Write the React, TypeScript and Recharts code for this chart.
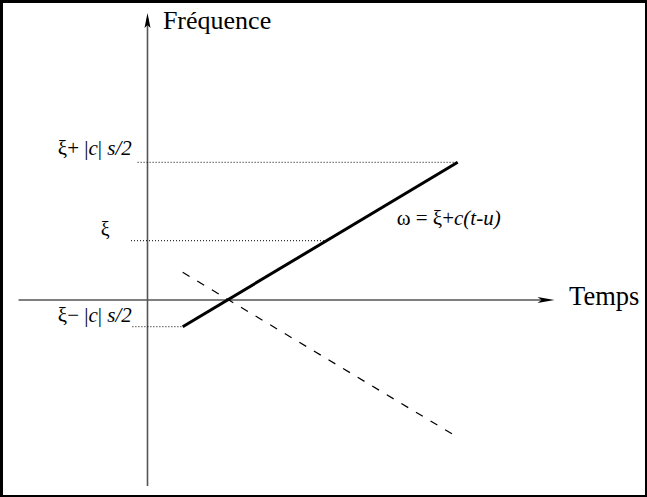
import React from "react"
import { LineChart, Line, XAxis, YAxis, ReferenceLine, ReferenceDot } from "recharts"

// time (t) and frequency (f) of the chirp line and its mirror
const chirpT = [1.28, 11.28]
const chirpF = [-2.67, 13.77]
const mirrorF = [2.77, -13.73]

// dotted guides: level, start t, end t
const guideLevels = [13.77, 5.93, -2.67]
const guideStart = [-0.36, -0.6, -0.55]
const guideEnd = [11.28, 6.44, 1.28]

// axes extents
const timeAxis = [-4.69, 14.8]
const freqAxis = [-18.6, 28.7]

const W = 647
const H = 497
const ORIGIN_X = 147.5
const ORIGIN_Y = 300
const PX_T = 27.5
const PX_F = 10
const tDomain = [-ORIGIN_X / PX_T, (W - ORIGIN_X) / PX_T]
const fDomain = [-(H - ORIGIN_Y) / PX_F, ORIGIN_Y / PX_F]

const solid = chirpT.map((t, i) => ({ t, f: chirpF[i] }))
const dashed = chirpT.map((t, i) => ({ t, f: mirrorF[i] }))

const FONT = "'Liberation Serif', 'Times New Roman', serif"
const AXIS = "#555555"

const arrowUp = (p: any) => (
  <path
    d={`M${p.cx},${p.cy} L${p.cx + 3},${p.cy + 15} L${p.cx},${p.cy + 12} L${p.cx - 3},${p.cy + 15} Z`}
    fill="#000"
  />
)
const arrowRight = (p: any) => (
  <path
    d={`M${p.cx},${p.cy} L${p.cx - 17},${p.cy + 3} L${p.cx - 13},${p.cy} L${p.cx - 17},${p.cy - 3} Z`}
    fill="#000"
  />
)

const textAt = (content: React.ReactNode, size: number, anchor: "start" | "end" = "start") =>
  (p: any) => (
    <text x={p.cx} y={p.cy} fontFamily={FONT} fontSize={size} textAnchor={anchor} fill="#000">
      {content}
    </text>
  )

export default function App() {
  return (
    <div style={{ position: "absolute", left: 0, top: 0, width: W, height: H, background: "#fff" }}>
      <LineChart width={W} height={H} margin={{ top: 0, right: 0, bottom: 0, left: 0 }}>
        <XAxis type="number" dataKey="t" domain={tDomain} allowDataOverflow hide />
        <YAxis type="number" dataKey="f" domain={fDomain} allowDataOverflow hide />

        {/* axes */}
        <ReferenceLine
          segment={[{ x: timeAxis[0], y: 0 }, { x: timeAxis[1] - 0.3, y: 0 }]}
          stroke={AXIS}
          strokeWidth={1.6}
          ifOverflow="visible"
        />
        <ReferenceLine
          segment={[{ x: 0, y: freqAxis[0] }, { x: 0, y: freqAxis[1] - 0.5 }]}
          stroke={AXIS}
          strokeWidth={1.6}
          ifOverflow="visible"
        />
        <ReferenceDot x={timeAxis[1]} y={0} r={0} shape={arrowRight} ifOverflow="visible" />
        <ReferenceDot x={0} y={freqAxis[1]} r={0} shape={arrowUp} ifOverflow="visible" />

        {/* dotted guides */}
        {guideLevels.map((lv, i) => (
          <ReferenceLine
            key={i}
            segment={[{ x: guideStart[i], y: lv }, { x: guideEnd[i], y: lv }]}
            stroke="#000"
            strokeWidth={1}
            strokeDasharray="1 2"
            ifOverflow="visible"
          />
        ))}

        <Line
          data={dashed}
          dataKey="f"
          type="linear"
          stroke="#000"
          strokeWidth={1.2}
          strokeDasharray="8 9"
          dot={false}
          activeDot={false}
          isAnimationActive={false}
        />
        <Line
          data={solid}
          dataKey="f"
          type="linear"
          stroke="#000"
          strokeWidth={3}
          dot={false}
          activeDot={false}
          isAnimationActive={false}
        />

        {/* labels */}
        <ReferenceDot x={0.56} y={27.15} r={0} ifOverflow="visible" shape={textAt("Fréquence", 26)} />
        <ReferenceDot x={15.33} y={-0.45} r={0} ifOverflow="visible" shape={textAt("Temps", 26.5)} />
        <ReferenceDot
          x={-0.57}
          y={14.5}
          r={0}
          ifOverflow="visible"
          shape={textAt(
            <>
              ξ+ |<tspan fontStyle="italic">c</tspan>| <tspan fontStyle="italic">s/2</tspan>
            </>,
            21,
            "end"
          )}
        />
        <ReferenceDot x={-1.38} y={6.4} r={0} ifOverflow="visible" shape={textAt("ξ", 20, "end")} />
        <ReferenceDot
          x={-0.57}
          y={-2.2}
          r={0}
          ifOverflow="visible"
          shape={textAt(
            <>
              ξ− |<tspan fontStyle="italic">c</tspan>| <tspan fontStyle="italic">s/2</tspan>
            </>,
            21,
            "end"
          )}
        />
        <ReferenceDot
          x={9.06}
          y={7.5}
          r={0}
          ifOverflow="visible"
          shape={textAt(
            <>
              ω = ξ+<tspan fontStyle="italic">c(t-u)</tspan>
            </>,
            21
          )}
        />
      </LineChart>
      <div
        style={{
          position: "absolute",
          inset: 0,
          boxSizing: "border-box",
          borderStyle: "solid",
          borderColor: "#000",
          borderWidth: "3px 2px 2px 3px",
          pointerEvents: "none",
        }}
      />
    </div>
  )
}
